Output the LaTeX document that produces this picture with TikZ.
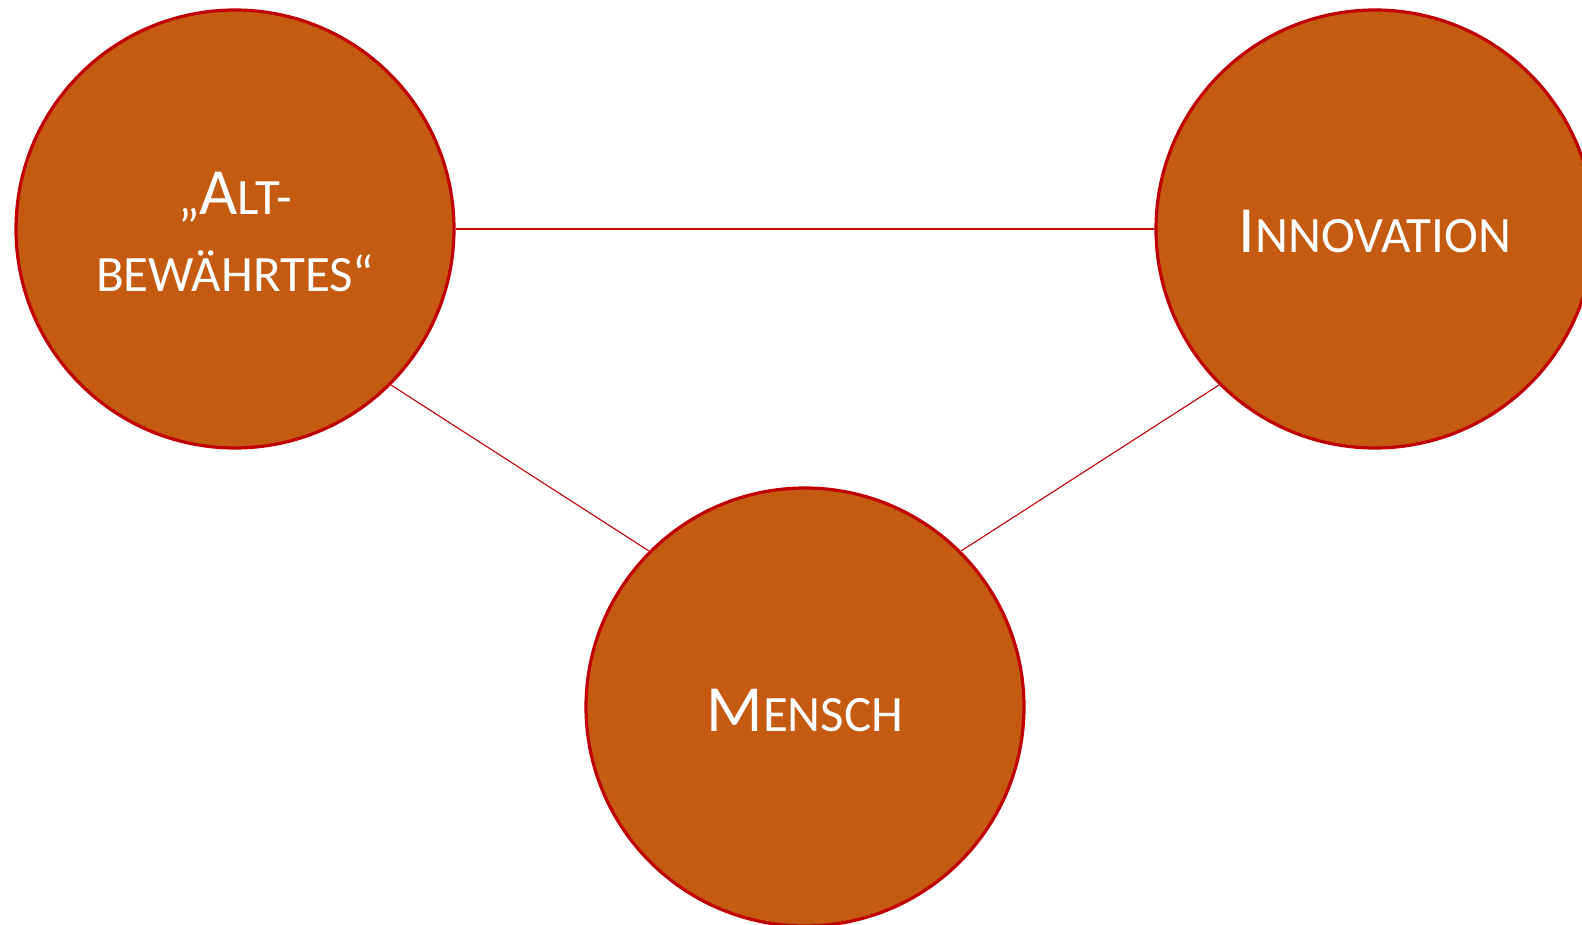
\documentclass[tikz,border=0pt]{standalone}
\usepackage{fontspec}
\setmainfont{Carlito}
\definecolor{circfill}{HTML}{C55A11}
\definecolor{circline}{HTML}{C00000}
\newcommand\bigletter[1]{{\fontsize{66}{77}\selectfont #1}}
\newcommand\lowered[1]{\raisebox{-3pt}[\height][\depth]{#1}}
\begin{document}
\begin{tikzpicture}[x=1pt,y=-1pt,
  bubble/.style={circle, draw=circline, line width=3.2pt, fill=circfill,
    minimum size=438pt, inner sep=0pt, text=white, align=center,
    font=\fontsize{51}{77}\selectfont},
  link/.style={draw=circline, line width=1.1pt}]
\useasboundingbox (0,0) rectangle (1582,925);
\clip (0,0) rectangle (1582,925);
\node[bubble] (alt) at (235,229) {\lowered{„\bigletter{A}LT-}\\\lowered{BEWÄHRTES“}};
\node[bubble] (inno) at (1375,229) {\lowered{\bigletter{I}NNOVATION}};
\node[bubble] (mensch) at (805,707) {\lowered{\bigletter{M}ENSCH}};
\draw[link] (alt.east) -- (inno.west);
\draw[link] (alt.south east) -- (mensch.north west);
\draw[link] (inno.south west) -- (mensch.north east);
\end{tikzpicture}
\end{document}
